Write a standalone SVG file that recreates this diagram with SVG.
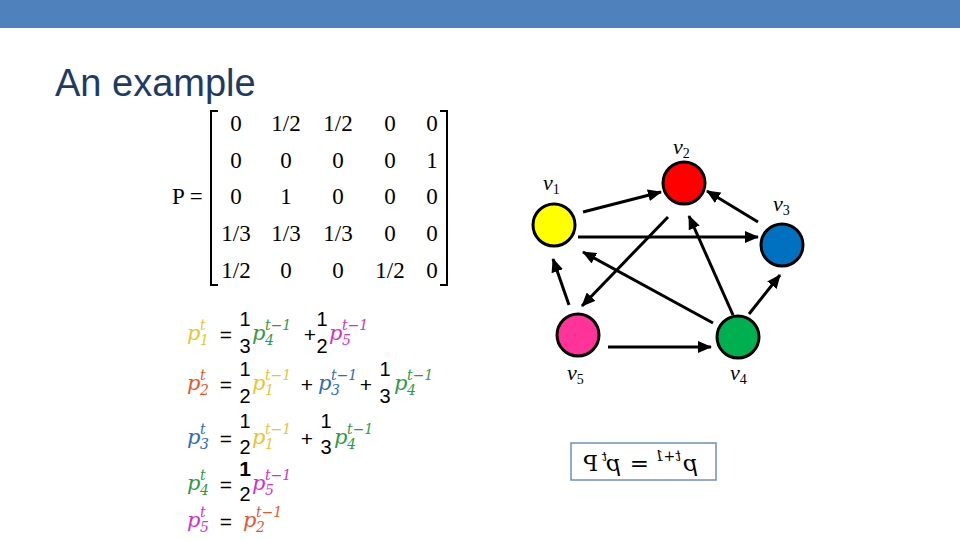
<svg xmlns="http://www.w3.org/2000/svg" width="960" height="540" viewBox="0 0 960 540">
<defs>
<marker id="ah" markerUnits="userSpaceOnUse" markerWidth="14" markerHeight="12" refX="13" refY="6" orient="auto">
<path d="M0,0 L14,6 L0,12 z" fill="#000"/>
</marker>
<style>
.title{font-family:"Liberation Sans",Arial,sans-serif;font-size:38px;fill:#1F3B64}
.mx{font-family:"Liberation Serif","Times New Roman",serif;font-size:23px;fill:#000;text-anchor:middle}
.p{font-family:"DejaVu Serif",serif;font-style:italic;font-size:21px}
.s{font-family:"DejaVu Serif",serif;font-style:italic;font-size:14px}
.num{font-family:"Liberation Sans",Arial,sans-serif;font-size:20px;fill:#000;text-anchor:middle}
.op{font-family:"Liberation Sans",Arial,sans-serif;font-size:21px;fill:#000;text-anchor:middle}
.lbl{font-family:"Liberation Serif","Times New Roman",serif;font-style:italic;font-size:22px;fill:#000}
.lsub{font-size:14px;font-style:normal}
.node{stroke:#000;stroke-width:3}
.edge{stroke:#000;stroke-width:3;fill:none;marker-end:url(#ah)}
.c1{fill:#E8C530}.c2{fill:#E4572E}.c3{fill:#2E6DB4}.c4{fill:#2F9A46}.c5{fill:#D22FD2}
</style>
</defs>
<rect x="0" y="0" width="960" height="28" fill="#4F81BD"/>
<text class="title" x="55" y="96">An example</text>

<g id="matrix">
<text x="172" y="204" style="font-family:'Liberation Serif',serif;font-size:23px">P =</text>
<path d="M218,111 L211,111 L211,285 L218,285" fill="none" stroke="#000" stroke-width="2"/>
<path d="M440,111 L447,111 L447,285 L440,285" fill="none" stroke="#000" stroke-width="2"/>
<g class="mx">
<text x="236" y="131">0</text><text x="286" y="131">1/2</text><text x="338" y="131">1/2</text><text x="390" y="131">0</text><text x="432" y="131">0</text>
<text x="236" y="168">0</text><text x="286" y="168">0</text><text x="338" y="168">0</text><text x="390" y="168">0</text><text x="432" y="168">1</text>
<text x="236" y="204">0</text><text x="286" y="204">1</text><text x="338" y="204">0</text><text x="390" y="204">0</text><text x="432" y="204">0</text>
<text x="236" y="241">1/3</text><text x="286" y="241">1/3</text><text x="338" y="241">1/3</text><text x="390" y="241">0</text><text x="432" y="241">0</text>
<text x="236" y="278">1/2</text><text x="286" y="278">0</text><text x="338" y="278">0</text><text x="390" y="278">1/2</text><text x="432" y="278">0</text>
</g>
</g>

<g id="equations">
<!-- row 1 -->
<text class="p c1" x="187" y="340">p</text><text class="s c1" x="200" y="345">1</text><text class="s c1" x="200" y="330">t</text>
<text class="op" x="226" y="342">=</text>
<text class="num" x="245" y="326">1</text><text class="num" x="245" y="353">3</text>
<text class="p c4" x="252" y="340">p</text><text class="s c4" x="265" y="345">4</text><text class="s c4" x="265" y="330">t−1</text>
<text class="op" x="310" y="342">+</text>
<text class="num" x="322" y="326">1</text><text class="num" x="322" y="353">2</text>
<text class="p c5" x="329" y="340">p</text><text class="s c5" x="342" y="345">5</text><text class="s c5" x="342" y="330">t−1</text>
<!-- row 2 -->
<text class="p c2" x="187" y="390">p</text><text class="s c2" x="200" y="395">2</text><text class="s c2" x="200" y="380">t</text>
<text class="op" x="226" y="392">=</text>
<text class="num" x="245" y="376">1</text><text class="num" x="245" y="403">2</text>
<text class="p c1" x="252" y="390">p</text><text class="s c1" x="265" y="395">1</text><text class="s c1" x="265" y="380">t−1</text>
<text class="op" x="307" y="392">+</text>
<text class="p c3" x="318" y="390">p</text><text class="s c3" x="331" y="395">3</text><text class="s c3" x="331" y="380">t−1</text>
<text class="op" x="366" y="392">+</text>
<text class="num" x="385" y="376">1</text><text class="num" x="385" y="403">3</text>
<text class="p c4" x="394" y="390">p</text><text class="s c4" x="407" y="395">4</text><text class="s c4" x="407" y="380">t−1</text>
<!-- row 3 -->
<text class="p c3" x="187" y="444">p</text><text class="s c3" x="200" y="449">3</text><text class="s c3" x="200" y="434">t</text>
<text class="op" x="226" y="446">=</text>
<text class="num" x="245" y="428">1</text><text class="num" x="245" y="454">2</text>
<text class="p c1" x="252" y="444">p</text><text class="s c1" x="265" y="449">1</text><text class="s c1" x="265" y="434">t−1</text>
<text class="op" x="307" y="446">+</text>
<text class="num" x="326" y="428">1</text><text class="num" x="326" y="454">3</text>
<text class="p c4" x="334" y="444">p</text><text class="s c4" x="347" y="449">4</text><text class="s c4" x="347" y="434">t−1</text>
<!-- row 4 -->
<text class="p c4" x="187" y="490">p</text><text class="s c4" x="200" y="495">4</text><text class="s c4" x="200" y="480">t</text>
<text class="op" x="226" y="492">=</text>
<text class="num" x="245" y="476" style="font-weight:bold;font-size:21px">1</text><text class="num" x="245" y="501">2</text>
<text class="p c5" x="252" y="490">p</text><text class="s c5" x="265" y="495">5</text><text class="s c5" x="265" y="480">t−1</text>
<!-- row 5 -->
<text class="p c5" x="187" y="527">p</text><text class="s c5" x="200" y="532">5</text><text class="s c5" x="200" y="517">t</text>
<text class="op" x="226" y="529">=</text>
<text class="p c2" x="243" y="527">p</text><text class="s c2" x="256" y="532">2</text><text class="s c2" x="256" y="517">t−1</text>
</g>

<g id="connectors">
<line class="edge" x1="583" y1="212" x2="661" y2="192"/>
<line class="edge" x1="578" y1="237" x2="758" y2="237"/>
<line class="edge" x1="758" y1="222" x2="707" y2="191"/>
<line class="edge" x1="668" y1="217" x2="582" y2="306"/>
<line class="edge" x1="733" y1="315" x2="689" y2="216"/>
<line class="edge" x1="749" y1="314" x2="780" y2="275"/>
<line class="edge" x1="713" y1="323" x2="583" y2="252"/>
<line class="edge" x1="569" y1="305" x2="553" y2="259"/>
<line class="edge" x1="608" y1="347" x2="711" y2="347"/>
</g>

<g id="v1"><circle class="node" cx="554" cy="225" r="21" fill="#FFFF00"/><text class="lbl" x="543" y="190">v<tspan class="lsub" dy="4">1</tspan></text></g>
<g id="v2"><circle class="node" cx="684" cy="183" r="21" fill="#FF0000"/><text class="lbl" x="673" y="154">v<tspan class="lsub" dy="4">2</tspan></text></g>
<g id="v3"><circle class="node" cx="782" cy="245" r="21" fill="#0070C0"/><text class="lbl" x="773" y="211">v<tspan class="lsub" dy="4">3</tspan></text></g>
<g id="v4"><circle class="node" cx="738" cy="337" r="21" fill="#00B050"/><text class="lbl" x="730" y="380">v<tspan class="lsub" dy="4">4</tspan></text></g>
<g id="v5"><circle class="node" cx="578" cy="335" r="21" fill="#FF3399"/><text class="lbl" x="567" y="380">v<tspan class="lsub" dy="4">5</tspan></text></g>

<g id="formula-box">
<rect x="571" y="443" width="145" height="37" fill="#fff" stroke="#6F8FBF" stroke-width="1.5"/>
<g transform="matrix(-1 0 0 1 1287 0)" style="font-family:'DejaVu Serif',serif;font-style:italic">
<text x="589" y="471" font-size="23">p</text>
<text x="606" y="461" font-size="14">t+1</text>
<text x="638" y="471" font-size="23" font-style="normal">=</text>
<text x="666" y="471" font-size="23">p</text>
<text x="680" y="461" font-size="13">t</text>
<text x="689" y="471" font-size="22" font-style="normal">P</text>
</g>
</g>
</svg>
